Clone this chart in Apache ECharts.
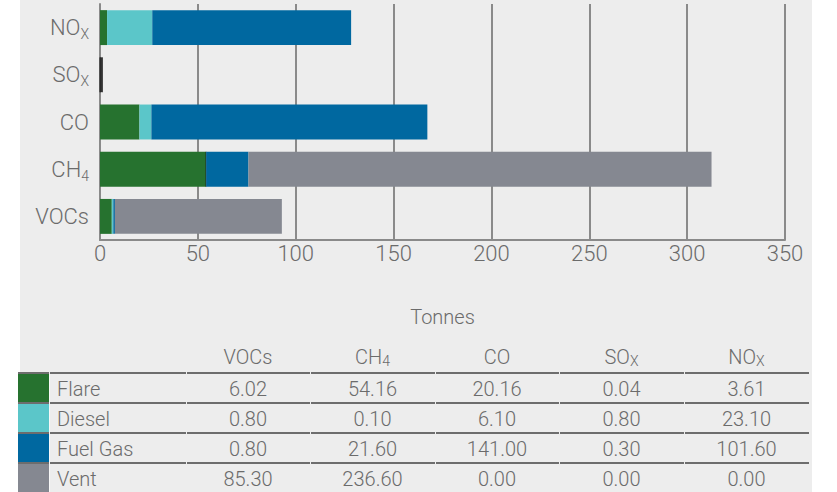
<!DOCTYPE html>
<html>
<head>
<meta charset="utf-8">
<title>Emissions by source</title>
<script src="https://cdn.jsdelivr.net/npm/echarts@6/dist/echarts.min.js"></script>
<style>
  html, body { margin: 0; padding: 0; background: #ffffff; }
  #chart { width: 837px; height: 492px; }
</style>
</head>
<body>
<div id="chart"></div>
<script>
// Pollutants, bottom to top on the chart and left to right in the table
const categories = ['VOCs', 'CH4', 'CO', 'SOx', 'NOx'];
const categoryLabels = ['VOCs', '{b|CH}{s|4}', 'CO', '{b|SO}{s|X}', '{b|NO}{s|X}'];
const headerLabels = ['VOCs', '{b|CH}{s|4}', 'CO', '{b|SO}{s|X}', '{b|NO}{s|X}'];

// Emissions by source, tonnes
const sources = ['Flare', 'Diesel', 'Fuel Gas', 'Vent'];
const flare   = [6.02, 54.16, 20.16, 0.04, 3.61];
const diesel  = [0.80, 0.10, 6.10, 0.80, 23.10];
const fuelGas = [0.80, 21.60, 141.00, 0.30, 101.60];
const vent    = [85.30, 236.60, 0.00, 0.00, 0.00];
const seriesValues = [flare, diesel, fuelGas, vent];

const xTicks = [0, 50, 100, 150, 200, 250, 300, 350];
const axisTitle = 'Tonnes';

const colors = ['#26722f', '#5bc6c9', '#0068a0', '#858891'];
const textColor = '#6b6b6b';
const lineColor = '#6d6d6d';
const FONT = "'Roboto', 'Liberation Sans', sans-serif";

const chart = echarts.init(document.getElementById('chart'), null, { renderer: 'svg' });

// SOx quantities are tiny; that bar is drawn in a dark tone so it stays visible
const darkItem = { color: '#232323', borderColor: '#232323', borderWidth: 0.6 };

const series = sources.map((name, si) => ({
  name,
  type: 'bar',
  stack: 'total',
  barCategoryGap: '26%',
  itemStyle: { color: colors[si] },
  data: seriesValues[si].map((v, ci) => {
    if (categories[ci] === 'SOx') return { value: v, itemStyle: darkItem };
    if (categories[ci] === 'CH4' && name === 'Diesel') return { value: v, itemStyle: darkItem };
    return v;
  })
}));

// ---- table under the chart ----
const tableLeft = 18;
const swatchRight = 49;
const colEdges = [18, 49, 186, 310, 435, 559, 684, 809];
const headerY = 357;
const firstLineY = 373;
const rowH = 30;
const TABLE_FS = 20;
const graphics = [];

// grey panel
graphics.push({
  type: 'rect', z: -100, silent: true,
  shape: { x: 20, y: 0, width: 792, height: 492 },
  style: { fill: '#ededed' }
});

const sub = {
  b: { fontSize: TABLE_FS, fontFamily: FONT, fontWeight: 300, fill: textColor, color: textColor },
  s: { fontSize: 14, fontFamily: FONT, fontWeight: 300, fill: textColor, color: textColor, padding: [7, 0, 0, 0] }
};

// header labels
categories.forEach((c, ci) => {
  const cx = (colEdges[ci + 2] + colEdges[ci + 3]) / 2;
  graphics.push({
    type: 'text', silent: true,
    style: {
      x: cx, y: headerY, text: headerLabels[ci], rich: sub,
      align: 'center', verticalAlign: 'middle',
      fontSize: TABLE_FS, fontFamily: FONT, fontWeight: 300, fill: textColor
    }
  });
});

// rows
sources.forEach((name, si) => {
  const top = firstLineY + si * rowH;
  // rule above the row, split per cell
  for (let k = 0; k < colEdges.length - 1; k++) {
    graphics.push({
      type: 'line', silent: true,
      shape: { x1: colEdges[k] + (k === 0 ? 0 : 1), y1: top, x2: colEdges[k + 1], y2: top },
      style: { stroke: lineColor, lineWidth: 2 }
    });
  }
  // colour key
  graphics.push({
    type: 'rect', silent: true,
    shape: { x: tableLeft, y: top + 1, width: swatchRight - tableLeft, height: rowH - 2 },
    style: { fill: colors[si] }
  });
  graphics.push({
    type: 'text', silent: true,
    style: {
      x: 57, y: top + rowH / 2 + 0.5, text: name,
      align: 'left', verticalAlign: 'middle',
      fontSize: TABLE_FS, fontFamily: FONT, fontWeight: 300, fill: textColor
    }
  });
  seriesValues[si].forEach((v, ci) => {
    const cx = (colEdges[ci + 2] + colEdges[ci + 3]) / 2;
    graphics.push({
      type: 'text', silent: true,
      style: {
        x: cx, y: top + rowH / 2 + 0.5, text: v.toFixed(2),
        align: 'center', verticalAlign: 'middle',
        fontSize: TABLE_FS, fontFamily: FONT, fontWeight: 300, fill: textColor
      }
    });
  });
});

// light divider between the key and the source names
graphics.push({
  type: 'line', silent: true,
  shape: { x1: swatchRight + 0.5, y1: firstLineY + 1, x2: swatchRight + 0.5, y2: 492 },
  style: { stroke: '#f8f8f8', lineWidth: 1 }
});

const axisRich = {
  b: { fontSize: 22, fontFamily: FONT, fontWeight: 300, color: textColor },
  s: { fontSize: 14, fontFamily: FONT, fontWeight: 300, color: textColor, padding: [13, 0, 0, 0] }
};

chart.setOption({
  animation: false,
  textStyle: { fontFamily: FONT, fontWeight: 300 },
  grid: { left: 100, right: 52, top: 4, bottom: 252, containLabel: false },
  xAxis: {
    type: 'value',
    min: xTicks[0],
    max: xTicks[xTicks.length - 1],
    interval: xTicks[1] - xTicks[0],
    name: axisTitle,
    nameLocation: 'middle',
    nameGap: 67,
    nameTextStyle: { fontSize: 20, fontFamily: FONT, fontWeight: 300, color: textColor },
    axisLine: { show: true, lineStyle: { color: '#8a8a8a', width: 2 } },
    axisTick: { show: false },
    splitLine: { show: true, lineStyle: { color: '#8a8a8a', width: 2 } },
    axisLabel: { fontSize: 22, fontFamily: FONT, fontWeight: 300, color: textColor, margin: 2 }
  },
  yAxis: {
    type: 'category',
    data: categories,
    axisLine: { show: true, lineStyle: { color: '#8a8a8a', width: 2 } },
    axisTick: { show: false },
    axisLabel: {
      fontSize: 22, fontFamily: FONT, fontWeight: 300, color: textColor, margin: 11,
      formatter: (v) => categoryLabels[categories.indexOf(v)],
      rich: axisRich
    }
  },
  graphic: graphics,
  series
});
</script>
</body>
</html>
